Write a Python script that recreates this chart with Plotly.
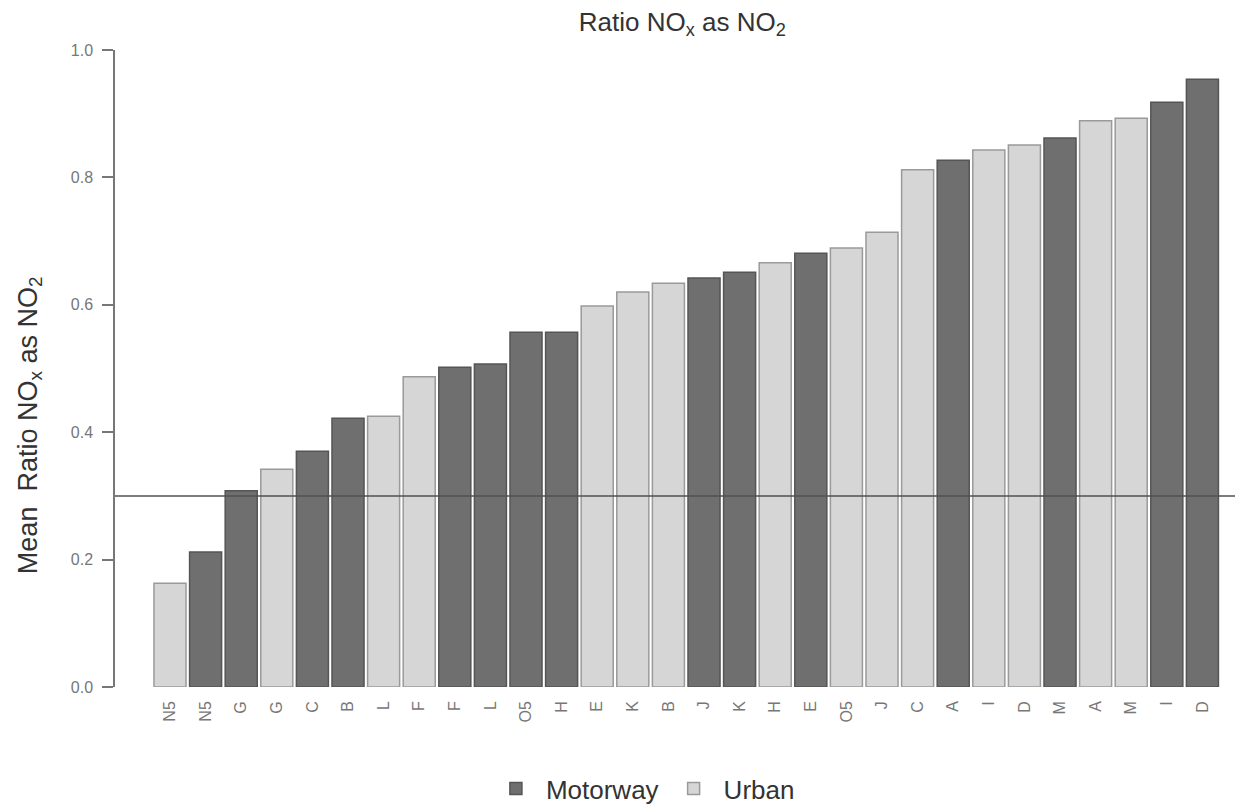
import plotly.graph_objects as go

labels = ["N5", "N5", "G", "G", "C", "B", "L", "F", "F", "L", "O5", "H", "E", "K", "B",
          "J", "K", "H", "E", "O5", "J", "C", "A", "I", "D", "M", "A", "M", "I", "D"]
site_type = ["Urban", "Motorway", "Motorway", "Urban", "Motorway", "Motorway", "Urban", "Urban",
             "Motorway", "Motorway", "Motorway", "Motorway", "Urban", "Urban", "Urban",
             "Motorway", "Motorway", "Urban", "Motorway", "Urban", "Urban", "Urban",
             "Motorway", "Urban", "Urban", "Motorway", "Urban", "Urban", "Motorway", "Motorway"]
values = [0.163, 0.212, 0.308, 0.342, 0.370, 0.422, 0.425, 0.487, 0.502, 0.507, 0.557, 0.557,
          0.598, 0.620, 0.634, 0.642, 0.651, 0.666, 0.681, 0.689, 0.714, 0.812, 0.827, 0.843,
          0.851, 0.862, 0.889, 0.893, 0.918, 0.954]
threshold = 0.3
y_ticks = [0.0, 0.2, 0.4, 0.6, 0.8, 1.0]

styles = {
    "Motorway": dict(color="#6f6f6f", line="#555555"),
    "Urban": dict(color="#d6d6d6", line="#9a9a9a"),
}

fig = go.Figure()
for kind in ["Motorway", "Urban"]:
    xs = [i for i, t in enumerate(site_type) if t == kind]
    ys = [values[i] for i in xs]
    fig.add_trace(go.Bar(
        x=xs, y=ys, name=kind, width=0.9,
        marker=dict(color=styles[kind]["color"], line=dict(color=styles[kind]["line"], width=1.5)),
    ))

fig.add_shape(type="line", xref="paper", x0=0, x1=1, yref="y", y0=threshold, y1=threshold,
              line=dict(color="#505050", width=1.5))

fig.update_layout(
    width=1235, height=804,
    margin=dict(l=107, r=0, t=42, b=125, autoexpand=False),
    paper_bgcolor="white", plot_bgcolor="white",
    font=dict(family="Liberation Sans, Arial, sans-serif", color="#333333"),
    title=dict(text="Ratio NO<sub>x</sub> as NO<sub>2</sub>", x=0.546, xanchor="center",
               y=0.983, yanchor="middle", font=dict(size=26, color="#333333")),
    barmode="overlay",
    showlegend=True,
    legend=dict(orientation="h", x=0.468, xanchor="center", yref="container", y=0.0,
                yanchor="bottom", font=dict(size=26, color="#333333"), itemwidth=50,
                traceorder="normal"),
)

fig.update_xaxes(
    tickmode="array", tickvals=list(range(len(labels))), ticktext=labels,
    tickangle=-90, range=[-1.545, 30.14], showline=False, showgrid=False, zeroline=False,
    ticks="", tickfont=dict(size=16, color="#777777"), automargin=False, ticklabelstandoff=10,
)
fig.update_yaxes(
    range=[0, 1.0], tickvals=y_ticks, ticktext=[f"{v:.1f}" for v in y_ticks],
    showline=True, linecolor="#777777", linewidth=1.5, ticks="outside", ticklen=11,
    tickcolor="#777777", tickwidth=1.5, showgrid=False, zeroline=False,
    tickfont=dict(size=16, color="#777777"), automargin=False, ticklabelstandoff=6,
)

fig.add_annotation(
    text="Mean  Ratio NO<sub>x</sub> as NO<sub>2</sub>", xref="paper", yref="paper",
    x=-0.0754, y=0.411, xanchor="center", yanchor="middle", textangle=-90, showarrow=False,
    font=dict(size=27, color="#333333"),
)

fig.write_html("out.html")
